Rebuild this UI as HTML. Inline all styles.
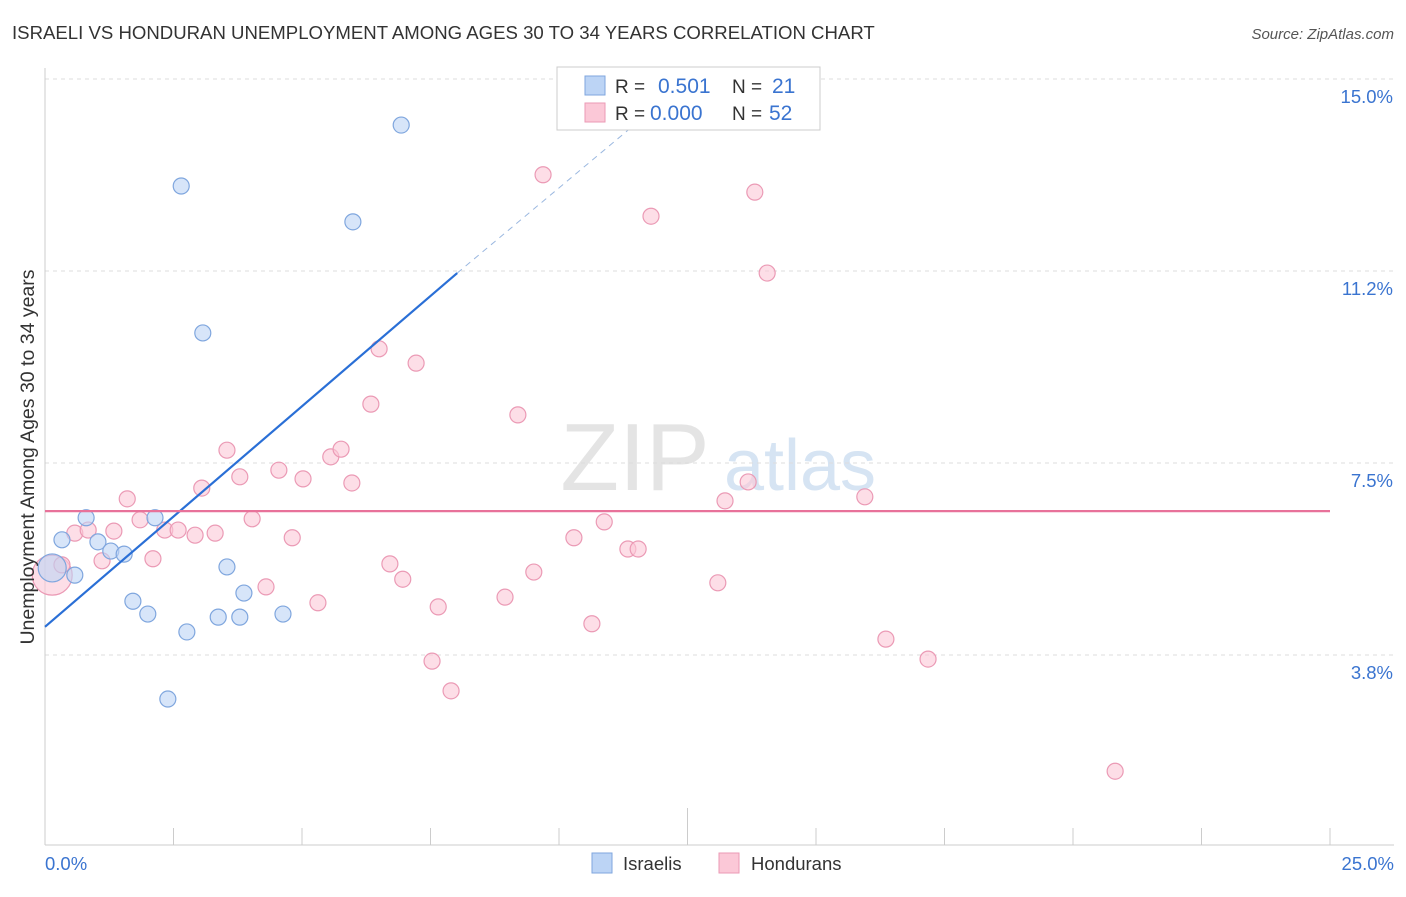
<!DOCTYPE html>
<html><head><meta charset="utf-8"><style>
body{margin:0;background:#fff;font-family:"Liberation Sans",sans-serif}
svg text{font-family:"Liberation Sans",sans-serif}
</style></head><body>
<svg id="chart" width="1406" height="892" xmlns="http://www.w3.org/2000/svg">
<text x="12" y="39" font-size="18.6" fill="#333">ISRAELI VS HONDURAN UNEMPLOYMENT AMONG AGES 30 TO 34 YEARS CORRELATION CHART</text>
<text x="1394" y="39" font-size="15" fill="#555" text-anchor="end" font-style="italic">Source: ZipAtlas.com</text>
<g>
<text x="635" y="490" font-size="96" fill="#e4e4e4" font-family="Liberation Serif" text-anchor="middle">ZIP</text>
<text x="800" y="490" font-size="72" fill="#d6e4f3" text-anchor="middle">atlas</text></g>
<g id="grid"></g><g id="axes"></g><g id="marks"></g>
<text transform="translate(34,457) rotate(-90)" font-size="19.5" fill="#333" text-anchor="middle">Unemployment Among Ages 30 to 34 years</text>
<text x="45" y="870" font-size="18.5" fill="#3a74d0">0.0%</text>
<text x="1394" y="870" font-size="18.5" fill="#3a74d0" text-anchor="end">25.0%</text>
<g>
<rect x="557" y="67" width="263" height="63" fill="#fff" stroke="#ccc"/>
<rect x="585" y="76" width="20" height="19" fill="#bcd4f5" stroke="#7fa6de"/>
<rect x="585" y="103" width="20" height="19" fill="#fbc8d7" stroke="#eb9ab5"/>
<text x="615" y="93" font-size="19" fill="#333">R =</text><text x="658" y="93" font-size="21" fill="#3a74d0">0.501</text>
<text x="732" y="93" font-size="19" fill="#333">N =</text><text x="772" y="93" font-size="21" fill="#3a74d0">21</text>
<text x="615" y="120" font-size="19" fill="#333">R =</text><text x="650" y="120" font-size="21" fill="#3a74d0">0.000</text>
<text x="732" y="120" font-size="19" fill="#333">N =</text><text x="769" y="120" font-size="21" fill="#3a74d0">52</text></g>
<g>
<rect x="592" y="853" width="20" height="20" fill="#bcd4f5" stroke="#7fa6de"/>
<text x="623" y="870" font-size="18.5" fill="#333">Israelis</text>
<rect x="719" y="853" width="20" height="20" fill="#fbc8d7" stroke="#eb9ab5"/>
<text x="751" y="870" font-size="18.5" fill="#333">Hondurans</text></g>
</svg>
<script>
const yTicks=[3.75,7.5,11.25,15.0];
const yTickLabels=["3.8%","7.5%","11.2%","15.0%"];
const xTicks=[0,2.5,5,7.5,10,12.5,15,17.5,20,22.5,25];
const israeliX=[0.14,0.33,0.58,0.80,1.03,1.28,1.54,1.71,2.00,2.14,2.65,2.76,2.39,3.07,3.37,3.54,3.79,3.87,4.63,5.99,6.93];
const israeliY=[5.45,6.0,5.31,6.43,5.96,5.78,5.72,4.80,4.55,6.43,12.91,4.20,2.89,10.04,4.49,5.47,4.49,4.96,4.55,12.21,14.10];
const honduranX=[0.14,0.33,0.58,0.84,1.11,1.34,1.60,1.85,2.10,2.33,2.59,2.92,3.05,3.31,3.54,3.79,4.03,4.30,4.55,4.81,5.02,5.31,5.56,5.76,5.97,6.34,6.50,6.71,6.96,7.22,7.53,7.65,7.90,8.95,9.20,9.51,9.69,10.29,10.64,10.88,11.34,11.54,11.79,13.09,13.23,13.68,13.81,14.05,15.95,16.36,17.18,20.82];
const honduranY=[5.31,5.51,6.13,6.19,5.59,6.17,6.80,6.39,5.63,6.19,6.19,6.09,7.01,6.13,7.75,7.23,6.41,5.08,7.36,6.04,7.19,4.77,7.62,7.77,7.11,8.65,9.73,5.53,5.23,9.45,3.63,4.69,3.05,4.88,8.44,5.37,13.13,6.04,4.36,6.35,5.82,5.82,12.32,5.16,6.76,7.13,12.79,11.21,6.84,4.06,3.67,1.48];
const israeliTrend=[[0,4.30],[8.02,11.21],[11.58,14.2]];
const honduranMean=6.56;
const X=v=>45+v*51.4, Y=v=>847-v*51.2;
const NS="http://www.w3.org/2000/svg";
function mk(p,t,a){const e=document.createElementNS(NS,t);for(const k in a)e.setAttribute(k,a[k]);document.getElementById(p).appendChild(e);return e;}
yTicks.forEach((t,i)=>{
 const l=mk('grid','line',{x1:45,x2:1394,y1:Y(t),y2:Y(t),stroke:'#ddd','stroke-dasharray':'4,4'});
 
 
 const tx=mk('grid','text',{x:1393,y:Y(t)+24,'font-size':18.5,fill:'#3a74d0','text-anchor':'end'});
 tx.textContent=yTickLabels[i];
 
 
});
const ya=mk('axes','line',{x1:45,x2:45,y1:68,y2:845,stroke:'#ccc'});


const xa=mk('axes','line',{x1:45,x2:1394,y1:845,y2:845,stroke:'#ccc'});


xTicks.forEach(t=>{
 const l=mk('axes','line',{x1:X(t),x2:X(t),y1:t===12.5?808:828,y2:845,stroke:'#ccc'});
 
 
});
function dot(x,y,fill,stroke,name,r){
 const c=mk('marks','circle',{cx:X(x),cy:Y(y),r:r,fill:fill,stroke:stroke,'stroke-width':1.2,'fill-opacity':0.6});
 
 
}
honduranX.forEach((x,i)=>dot(x,honduranY[i],'#fbc8d7','#eb9ab5','honduran-point',i===0?20:8));
israeliX.forEach((x,i)=>dot(x,israeliY[i],'#bcd4f5','#7fa6de','israeli-point',i===0?14:8));
const t1=mk('marks','line',{x1:X(israeliTrend[0][0]),y1:Y(israeliTrend[0][1]),x2:X(israeliTrend[1][0]),y2:Y(israeliTrend[1][1]),stroke:'#2a6fd6','stroke-width':2.2});


const t2=mk('marks','line',{x1:X(israeliTrend[1][0]),y1:Y(israeliTrend[1][1]),x2:X(israeliTrend[2][0]),y2:Y(israeliTrend[2][1]),stroke:'#9bb8e0','stroke-width':1,'stroke-dasharray':'6,5'});


const hm=mk('marks','line',{x1:X(0),x2:X(25),y1:Y(honduranMean),y2:Y(honduranMean),stroke:'#e8729a','stroke-width':2.2});


</script>
</body></html>
